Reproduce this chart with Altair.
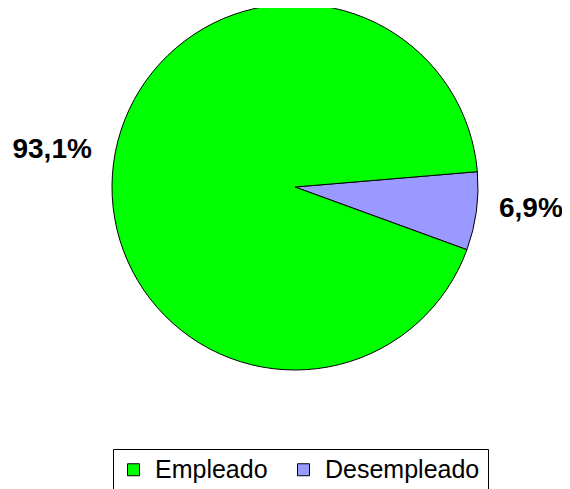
import math
import altair as alt
import pandas as pd

categories = ["Desempleado", "Empleado"]
values = [6.9, 93.1]
labels = ["6,9%", "93,1%"]
order = [0, 1]
legend_order = ["Empleado", "Desempleado"]
colors = ["#00FF00", "#9999FF"]

df = pd.DataFrame({"cat": categories, "val": values, "lab": labels, "orden": order})

start = math.radians(85.2)
theta_scale = alt.Scale(range=[start, start + 2 * math.pi])

base = alt.Chart(df).encode(
    theta=alt.Theta("val:Q", stack=True, scale=theta_scale),
    order=alt.Order("orden:Q"),
    x=alt.value(287),
    y=alt.value(179),
)

pie = base.mark_arc(outerRadius=183, stroke="black", strokeWidth=1).encode(
    color=alt.Color(
        "cat:N",
        scale=alt.Scale(domain=legend_order, range=colors),
        legend=alt.Legend(
            title=None,
            orient="none",
            legendX=105,
            legendY=441,
            direction="horizontal",
            strokeColor="black",
            padding=8,
            symbolType="square",
            symbolSize=144,
            symbolStrokeColor="black",
            symbolStrokeWidth=1,
            symbolOpacity=1,
            labelFont="Liberation Sans",
            labelFontSize=25,
            labelColor="black",
            labelOffset=9,
            columnPadding=23,
            labelLimit=300,
        ),
    )
)

txt_style = dict(font="Liberation Sans", fontSize=28, fontWeight="bold", color="black",
                 align="center", baseline="middle")

lab_emp = base.mark_text(radius=245, dy=-5, **txt_style).encode(
    text="lab:N", opacity=alt.condition(alt.datum.cat == "Empleado", alt.value(1), alt.value(0))
)
lab_des = base.mark_text(radius=238, dy=-10, **txt_style).encode(
    text="lab:N", opacity=alt.condition(alt.datum.cat == "Desempleado", alt.value(1), alt.value(0))
)

chart = (
    alt.layer(pie, lab_emp, lab_des)
    .properties(width=554, height=481, autosize=alt.AutoSizeParams(type="none"), padding=0)
    .configure_view(stroke=None)
)

chart.save("out.html", embed_options={"renderer": "svg", "actions": False})
